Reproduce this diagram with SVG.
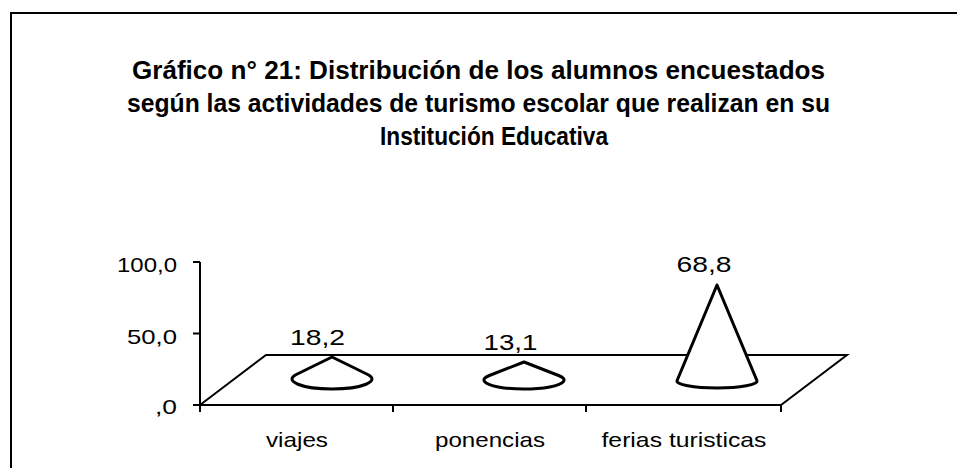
<svg xmlns="http://www.w3.org/2000/svg" width="957" height="468" viewBox="0 0 957 468">
<style>
  .t { font-family: "Liberation Sans", Arial, sans-serif; font-weight: bold; font-size: 25px; fill: #000; }
  .l { font-family: "Liberation Sans", Arial, sans-serif; font-size: 21px; fill: #000; }
  .v { font-family: "Liberation Sans", Arial, sans-serif; font-size: 22px; fill: #000; }
  .ln { stroke: #000; stroke-width: 2; fill: none; }
  .cone { stroke: #000; stroke-width: 3; fill: #fff; stroke-linejoin: round; }
</style>
<rect x="0" y="0" width="957" height="468" fill="#fff"/>
<g id="frame">
  <path class="ln" d="M11,468 V13 H957"/>
</g>
<g id="title">
  <text class="t" x="132" y="79" textLength="693" lengthAdjust="spacingAndGlyphs">Gráfico n° 21: Distribución de los alumnos encuestados</text>
  <text class="t" x="127" y="112" textLength="703" lengthAdjust="spacingAndGlyphs">según las actividades de turismo escolar que realizan en su</text>
  <text class="t" x="380" y="145" textLength="228" lengthAdjust="spacingAndGlyphs">Institución Educativa</text>
</g>
<g id="axes">
  <path class="ln" d="M200,262 V412 M193,262 H200 M193,333.5 H200 M193,405 H200 M393,405 V412 M586,405 V412 M781,405 V412"/>
  <text class="l" x="177" y="272" text-anchor="end" textLength="60" lengthAdjust="spacingAndGlyphs">100,0</text>
  <text class="l" x="177" y="344" text-anchor="end" textLength="50" lengthAdjust="spacingAndGlyphs">50,0</text>
  <text class="l" x="177" y="414" text-anchor="end" textLength="22" lengthAdjust="spacingAndGlyphs">,0</text>
</g>
<g id="floor">
  <path class="ln" d="M200,405 L266,355 H847 L781,405 Z"/>
</g>
<g id="categories">
  <text class="l" x="297" y="447" text-anchor="middle" textLength="62" lengthAdjust="spacingAndGlyphs">viajes</text>
  <text class="l" x="490" y="447" text-anchor="middle" textLength="110" lengthAdjust="spacingAndGlyphs">ponencias</text>
  <text class="l" x="684" y="447" text-anchor="middle" textLength="165" lengthAdjust="spacingAndGlyphs">ferias turisticas</text>
</g>
<g id="cone-viajes">
  <path class="cone" d="M332,357 L296.3,374.5 A40,10 0 1 0 367.7,374.5 Z"/>
  <text class="v" x="317.5" y="345" text-anchor="middle" textLength="55" lengthAdjust="spacingAndGlyphs">18,2</text>
</g>
<g id="cone-ponencias">
  <path class="cone" d="M524,362 L489.4,375.5 A40,9 0 1 0 558.6,375.5 Z"/>
  <text class="v" x="510.5" y="350" text-anchor="middle" textLength="54" lengthAdjust="spacingAndGlyphs">13,1</text>
</g>
<g id="cone-ferias">
  <path class="cone" d="M717,285 L677.1,380.5 A40,7 0 1 0 756.9,380.5 Z"/>
  <text class="v" x="704" y="272" text-anchor="middle" textLength="55" lengthAdjust="spacingAndGlyphs">68,8</text>
</g>
</svg>
